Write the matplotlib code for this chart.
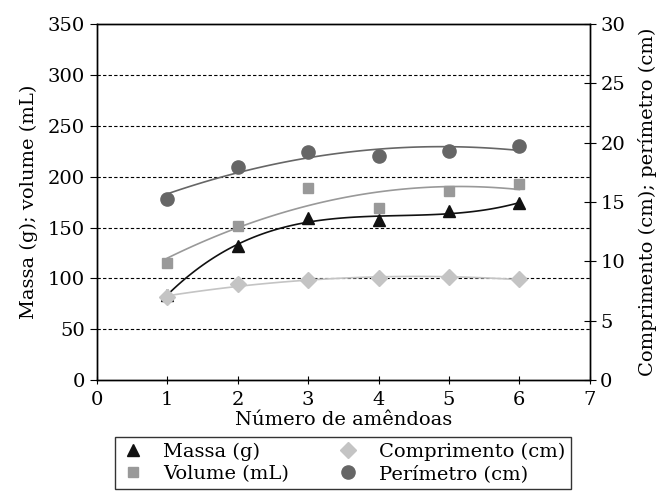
import numpy as np
import matplotlib
matplotlib.use("Agg")
import matplotlib.pyplot as plt
from matplotlib.lines import Line2D

# valores
amendoas = [1, 2, 3, 4, 5, 6]
massa = [84, 132, 159, 157, 166, 174]          # g
volume = [115, 152, 189, 169, 186, 193]         # mL
comprimento = [7.0, 8.1, 8.4, 8.6, 8.7, 8.5]    # cm
perimetro = [15.3, 18.0, 19.2, 18.9, 19.3, 19.7]  # cm

plt.rcParams['font.family'] = ['DejaVu Serif']
FS = 14

fig = plt.figure(figsize=(6.59, 4.93), dpi=100)
ax = fig.add_axes([0.147, 0.229, 0.748, 0.722])
ax2 = ax.twinx()

x = np.array(amendoas)
xs = np.linspace(1, 6, 100)


def trend(axis, y, color, deg):
    # linha de tendencia polinomial, como no Excel
    coef = np.polyfit(x, y, deg)
    axis.plot(xs, np.polyval(coef, xs), color=color, lw=1.2, zorder=2)


trend(ax, massa, '#111111', 3)
trend(ax, volume, '#999999', 2)
trend(ax2, comprimento, '#c4c4c4', 2)
trend(ax2, perimetro, '#666666', 2)

ax.plot(x, massa, ls='none', marker='^', ms=9, color='#111111', zorder=3)
ax.plot(x, volume, ls='none', marker='s', ms=6.5, color='#999999', zorder=3)
ax2.plot(x, comprimento, ls='none', marker='D', ms=8, color='#c4c4c4', zorder=3)
ax2.plot(x, perimetro, ls='none', marker='o', ms=9.5, color='#666666', zorder=3)

ax.set_xlim(0, 7)
ax.set_ylim(0, 350)
ax2.set_ylim(0, 30)
ax.set_xticks(range(0, 8))
ax.set_yticks(range(0, 351, 50))
ax2.set_yticks(range(0, 31, 5))
for yv in range(50, 301, 50):
    ax.axhline(yv, color='black', ls=(0, (3, 2)), lw=0.8, zorder=1)

ax.tick_params(axis='y', direction='out', length=5, labelsize=FS)
ax.tick_params(axis='x', direction='inout', length=6, labelsize=FS, pad=5)
ax2.tick_params(axis='y', direction='inout', length=8, labelsize=FS)

ax.set_xlabel('Número de amêndoas', fontsize=FS, labelpad=1)
ax.set_ylabel('Massa (g); volume (mL)', fontsize=FS, labelpad=7)
ax2.set_ylabel('Comprimento (cm); perímetro (cm)', fontsize=FS, labelpad=9)

for a in (ax, ax2):
    for s in a.spines.values():
        s.set_linewidth(1.0)

handles = [
    Line2D([], [], ls='none', marker='^', ms=9, color='#111111'),
    Line2D([], [], ls='none', marker='s', ms=6.5, color='#999999'),
    Line2D([], [], ls='none', marker='D', ms=8, color='#c4c4c4'),
    Line2D([], [], ls='none', marker='o', ms=9.5, color='#666666'),
]
labels = ['Massa (g)', 'Volume (mL)', 'Comprimento (cm)', 'Perímetro (cm)']
leg = fig.legend(handles, labels, ncol=2, loc='upper center',
                 bbox_to_anchor=(0.52, 0.1136), frameon=True, fancybox=False,
                 edgecolor='black', fontsize=FS, columnspacing=2.4,
                 handlelength=1.3, handletextpad=0.9, borderpad=0.3,
                 labelspacing=0.2, borderaxespad=0)
leg.get_frame().set_linewidth(1.0)

fig.savefig('out.png', dpi=100)
